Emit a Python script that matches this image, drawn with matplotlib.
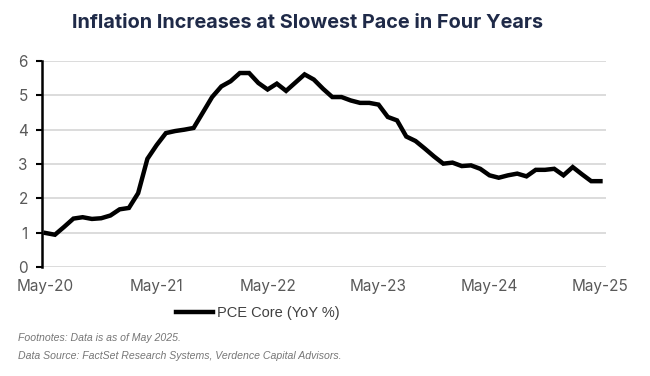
import matplotlib
matplotlib.use("Agg")
import matplotlib.pyplot as plt
from matplotlib.lines import Line2D

# PCE core YoY %, monthly May-20 .. May-25
months = list(range(61))
pce_core = [
    0.99, 0.94, 1.17, 1.41, 1.45, 1.40, 1.42, 1.50, 1.68, 1.72,
    2.15, 3.15, 3.55, 3.90, 3.96, 4.00, 4.05, 4.50, 4.95, 5.26,
    5.41, 5.65, 5.65, 5.36, 5.17, 5.34, 5.13, 5.37, 5.61, 5.46,
    5.19, 4.95, 4.95, 4.85, 4.78, 4.78, 4.73, 4.37, 4.27, 3.80,
    3.67, 3.45, 3.22, 3.01, 3.04, 2.94, 2.96, 2.86, 2.67, 2.60,
    2.67, 2.72, 2.64, 2.83, 2.83, 2.86, 2.67, 2.91, 2.70, 2.50,
    2.50,
]
tick_pos = [0, 12, 24, 36, 48, 60]
tick_labels = ["May-20", "May-21", "May-22", "May-23", "May-24", "May-25"]

plt.rcParams["font.family"] = ["Inter", "DejaVu Sans"]

fig = plt.figure(figsize=(6.5, 3.76), dpi=100)
ax = fig.add_axes([41.7 / 650, 1 - 267 / 376, (606 - 41.7) / 650, 206 / 376])

ax.plot(months, pce_core, color="black", lw=3.2, solid_joinstyle="miter", zorder=3)

ax.set_xlim(-0.43, 60.6)
ax.set_ylim(0, 6)
ax.set_yticks(range(7))
ax.set_xticks(tick_pos)
ax.set_xticklabels(tick_labels)
ax.grid(axis="y", color="#d9d9d9", lw=1.3)
ax.set_axisbelow(True)

for s in ["top", "right", "bottom"]:
    ax.spines[s].set_visible(False)
ax.spines["left"].set_color("black")
ax.spines["left"].set_linewidth(1.8)
ax.tick_params(axis="y", length=4, width=1.5, color="black", labelcolor="#595959",
               labelsize=11, pad=6)
ax.tick_params(axis="x", length=0, labelcolor="#595959", labelsize=11, pad=9)

fig.text(0.473, 0.94, "Inflation Increases at Slowest Pace in Four Years",
         ha="center", va="center", fontsize=14.3, fontweight="bold", color="#1f2a48")

# legend
handle = Line2D([], [], color="black", lw=3.2)
fig.legend([handle], ["PCE Core (YoY %)"], loc="center", bbox_to_anchor=(0.397, 0.168),
           frameon=False, handlelength=2.5, handletextpad=0.3,
           labelcolor="#404040", prop={"family": "Liberation Sans", "size": 10.5})

fig.text(0.028, 0.093, "Footnotes: Data is as of May 2025.", fontsize=7.6,
         style="italic", color="#767676", family="Liberation Sans")
fig.text(0.028, 0.045, "Data Source: FactSet Research Systems, Verdence Capital Advisors.",
         fontsize=7.6, style="italic", color="#767676", family="Liberation Sans")

fig.savefig("out.png", dpi=100)
